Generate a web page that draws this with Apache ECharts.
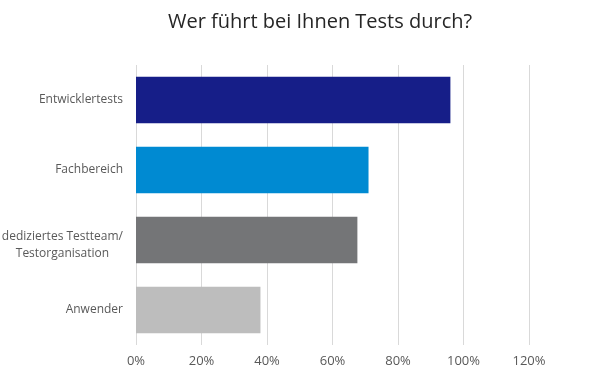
<!DOCTYPE html>
<html>
<head>
<meta charset="utf-8">
<script src="https://cdn.jsdelivr.net/npm/echarts@6/dist/echarts.min.js"></script>
<style>html,body{margin:0;padding:0;background:#fff}#c{width:600px;height:375px}</style>
</head>
<body>
<div id="c"></div>
<script>
const categories = ['Entwicklertests', 'Fachbereich', 'dediziertes Testteam/\nTestorganisation', 'Anwender'];
const values = [96, 71, 67.6, 38];
const barColors = ['#161e88', '#008ad2', '#747577', '#bdbdbd'];
const xTicks = [0, 20, 40, 60, 80, 100, 120];

const chart = echarts.init(document.getElementById('c'));
chart.setOption({
  animation: false,
  title: {
    text: 'Wer führt bei Ihnen Tests durch?',
    left: 163, top: 7,
    textStyle: { fontFamily: 'Open Sans', fontSize: 20, fontWeight: 'normal', color: '#262626' }
  },
  grid: { left: 136, top: 65, width: 393, height: 280, containLabel: false, outerBoundsMode: 'none' },
  xAxis: {
    type: 'value', min: xTicks[0], max: xTicks[xTicks.length - 1], interval: 20,
    axisLine: { show: false }, axisTick: { show: false },
    splitLine: { lineStyle: { color: '#d9d9d9', width: 1 } },
    axisLabel: { formatter: v => v + '%', color: '#595959', fontFamily: 'Open Sans', fontSize: 13, margin: 10 }
  },
  yAxis: {
    type: 'category', data: categories, inverse: true,
    axisLine: { show: false }, axisTick: { show: false },
    axisLabel: {
      color: '#595959', fontFamily: 'Open Sans', fontSize: 12, margin: 13,
      formatter: v => {
        const parts = v.split('\n');
        if (parts.length === 1) return '{c|' + v + '}';
        return '{s| }\n' + parts.map(s => '{c|' + s + '}').join('\n');
      },
      rich: {
        c: { align: 'center', color: '#595959', fontFamily: 'Open Sans', fontSize: 12, lineHeight: 17 },
        s: { fontSize: 1, lineHeight: 11 }
      }
    }
  },
  series: [{
    type: 'bar', barCategoryGap: '33.5%',
    data: values.map((v, i) => ({ value: v, itemStyle: { color: barColors[i] } }))
  }]
});
</script>
</body>
</html>
